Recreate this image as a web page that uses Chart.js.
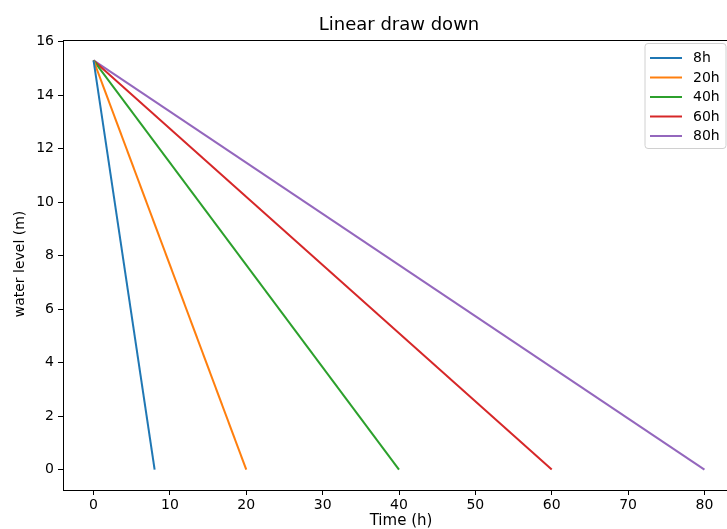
<!DOCTYPE html>
<html>
<head>
<meta charset="utf-8">
<script src="https://cdn.jsdelivr.net/npm/chart.js@4.4.1/dist/chart.umd.min.js"></script>
<style>
  html, body { margin: 0; padding: 0; background: #fff; overflow: hidden; }
  #wrap { width: 740px; height: 529px; }
</style>
</head>
<body>
<div id="wrap"><canvas id="c" width="740" height="529"></canvas></div>
<script>
// Drawdown durations (hours) and the starting water level (m)
const labels = ['8h', '20h', '40h', '60h', '80h'];
const durations = [8, 20, 40, 60, 80];
const startLevel = [15.3, 15.3, 15.3, 15.3, 15.3];
const endLevel = [0, 0, 0, 0, 0];
const colors = ['#1f77b4', '#ff7f0e', '#2ca02c', '#d62728', '#9467bd'];
const xTicks = [0, 10, 20, 30, 40, 50, 60, 70, 80];
const yTicks = [0, 2, 4, 6, 8, 10, 12, 14, 16];

const FONT = 'DejaVu Sans';

const datasets = labels.map((name, i) => ({
  label: name,
  data: [{ x: 0, y: startLevel[i] }, { x: durations[i], y: endLevel[i] }],
  borderColor: colors[i],
  backgroundColor: colors[i],
  borderWidth: 2,
  pointRadius: 0,
  fill: false,
  tension: 0
}));

// Frame, title, axis titles and a boxed legend in the upper right
const decor = {
  id: 'decor',
  afterDraw(chart) {
    const ctx = chart.ctx;
    const a = chart.chartArea;
    ctx.save();
    ctx.strokeStyle = '#000';
    ctx.lineWidth = 1;
    ctx.strokeRect(Math.round(a.left) + 0.5, Math.round(a.top) + 0.5,
                   Math.round(a.right - a.left), Math.round(a.bottom - a.top));

    ctx.fillStyle = '#000';
    ctx.textAlign = 'center';
    ctx.textBaseline = 'middle';
    ctx.font = '18px "' + FONT + '"';
    ctx.fillText('Linear draw down', 399, 25);

    ctx.font = '15px "' + FONT + '"';
    ctx.fillText('Time (h)', 401, 521);
    ctx.font = '14px "' + FONT + '"';
    ctx.save();
    ctx.translate(20, 264);
    ctx.rotate(-Math.PI / 2);
    ctx.fillText('water level (m)', 0, 0);
    ctx.restore();

    // legend box
    const bx = 645, by = 43.5, bw = 81, bh = 105, r = 3;
    ctx.beginPath();
    ctx.moveTo(bx + r, by);
    ctx.lineTo(bx + bw - r, by);
    ctx.arcTo(bx + bw, by, bx + bw, by + r, r);
    ctx.lineTo(bx + bw, by + bh - r);
    ctx.arcTo(bx + bw, by + bh, bx + bw - r, by + bh, r);
    ctx.lineTo(bx + r, by + bh);
    ctx.arcTo(bx, by + bh, bx, by + bh - r, r);
    ctx.lineTo(bx, by + r);
    ctx.arcTo(bx, by, bx + r, by, r);
    ctx.closePath();
    ctx.fillStyle = 'rgba(255,255,255,0.8)';
    ctx.fill();
    ctx.strokeStyle = '#d0d0d0';
    ctx.stroke();

    ctx.textAlign = 'left';
    ctx.font = '14px "' + FONT + '"';
    chart.data.datasets.forEach((ds, i) => {
      const y = 58 + i * 19.5;
      ctx.strokeStyle = ds.borderColor;
      ctx.lineWidth = 2;
      ctx.beginPath();
      ctx.moveTo(650, y);
      ctx.lineTo(682, y);
      ctx.stroke();
      ctx.fillStyle = '#000';
      ctx.fillText(ds.label, 693, y + 0.5);
    });
    ctx.restore();
  }
};

new Chart(document.getElementById('c'), {
  type: 'line',
  data: { datasets },
  options: {
    responsive: false,
    animation: false,
    layout: { padding: { left: 0, right: 5, top: 40, bottom: 0 } },
    plugins: { legend: { display: false }, title: { display: false }, tooltip: { enabled: false } },
    scales: {
      x: {
        type: 'linear',
        min: -4,
        max: 84,
        afterBuildTicks(s) { s.ticks = xTicks.map(v => ({ value: v })); },
        afterFit(s) { s.height = 39; },
        grid: { display: true, drawOnChartArea: false, drawTicks: true, tickLength: 5, color: '#000' },
        border: { display: true, color: '#000', width: 1 },
        ticks: { color: '#000', font: { family: FONT, size: 14 }, padding: 2, maxRotation: 0 }
      },
      y: {
        type: 'linear',
        min: -0.765,
        max: 16.065,
        afterBuildTicks(s) { s.ticks = yTicks.map(v => ({ value: v })); },
        afterFit(s) { s.width = 63; },
        grid: { display: true, drawOnChartArea: false, drawTicks: true, tickLength: 5, color: '#000' },
        border: { display: true, color: '#000', width: 1 },
        ticks: { color: '#000', font: { family: FONT, size: 14 }, padding: 4 }
      }
    }
  },
  plugins: [decor]
});
</script>
</body>
</html>
